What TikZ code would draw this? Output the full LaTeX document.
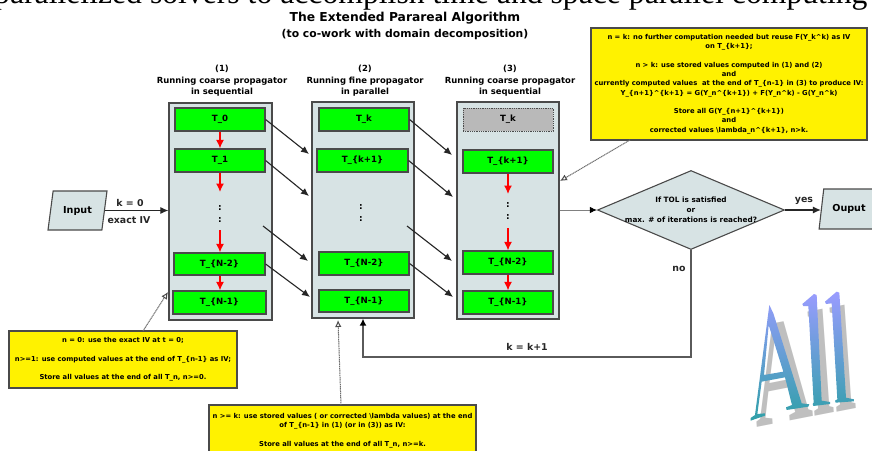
\documentclass[tikz,border=0pt]{standalone}
\usepackage{fontspec}
\setmainfont{DejaVu Sans}
\newfontfamily\timesf{Liberation Serif}
\usetikzlibrary{arrows.meta,shapes.geometric}
\definecolor{panelc}{HTML}{D7E3E4}
\definecolor{edgec}{HTML}{4A4A4A}
\definecolor{grayc}{HTML}{808080}
\definecolor{logotop}{HTML}{9A9CFF}
\definecolor{logobot}{HTML}{2FA0A8}
\tikzset{
  panel/.style={draw=edgec,line width=1.3pt,fill=panelc,inner sep=0pt},
  tbox/.style={draw=edgec,line width=1.2pt,fill=green,inner sep=0pt,font=\fontsize{8.6}{9}\selectfont\bfseries,text=black},
  ghost/.style={draw=edgec,densely dotted,line width=.8pt,fill=gray!55,inner sep=0pt,font=\fontsize{8.6}{9}\selectfont\bfseries},
  note/.style={draw=edgec,line width=1.2pt,fill=yellow,inner sep=0pt,align=center,font=\fontsize{6.8}{9.3}\selectfont\bfseries},
  head/.style={align=center,inner sep=0pt,font=\fontsize{8.45}{11.4}\selectfont\bfseries},
  lab/.style={inner sep=0pt,font=\fontsize{9.4}{10}\selectfont\bfseries,text=black!85},
  para/.style={draw=edgec,line width=1.1pt,fill=panelc,trapezium,trapezium left angle=71.5,trapezium right angle=108.5,trapezium stretches=true,inner sep=0pt,font=\fontsize{9.6}{10}\selectfont\bfseries},
  flow/.style={draw=black!85,line width=1.1pt,-{Latex[length=8pt,width=7pt]}},
  redflow/.style={draw=red,line width=1.3pt,-{Latex[length=8.5pt,width=8pt]}},
  thinflow/.style={draw=grayc,line width=1pt,-{Latex[length=7pt,width=6.5pt,black]}},
  callout/.style={draw=grayc!85!black,dash pattern=on 1.2pt off .6pt,line width=1pt,-{Latex[open,length=7pt,width=6.5pt,black!70]}},
  dots/.style={inner sep=0pt,font=\fontsize{9}{10}\selectfont\bfseries}
}
\begin{document}
\begin{tikzpicture}[x=1pt,y=-1pt]
\clip (0,0) rectangle (872,450);
\fill[white] (0,0) rectangle (872,450);
% clipped line of page text
\node[anchor=base west,inner sep=0pt,font={\timesf\fontsize{31.7}{32}\selectfont}] (pagetext) at (-6,3) {parallelized solvers to accomplish time and space parallel computing};
% title
\node[inner sep=0pt,font=\fontsize{12.3}{13}\selectfont\bfseries] (title) at (405,18) {The Extended Parareal Algorithm};
\node[inner sep=0pt,font=\fontsize{10.8}{12}\selectfont\bfseries] (subtitle) at (405,35) {(to co-work with domain decomposition)};
% headers
\node[head] (h1) at (222,81) {(1)\\Running coarse propagator\\in sequential};
\node[head] (h2) at (365,81) {(2)\\Running fine propagator\\in parallel};
\node[head] (h3) at (510,81) {(3)\\Running coarse propagator\\in sequential};
% panels
\node[panel,minimum width=103pt,minimum height=217pt] (p1) at (220.5,211.5) {};
\node[panel,minimum width=102pt,minimum height=216pt] (p2) at (363,210) {};
\node[panel,minimum width=102pt,minimum height=217pt] (p3) at (508,210.5) {};
% column 1
\node[tbox,minimum width=90pt,minimum height=23pt] (a0) at (220,119.5) {T\_0};
\node[tbox,minimum width=90pt,minimum height=23pt] (a1) at (220,160.5) {T\_1};
\node[tbox,minimum width=91pt,minimum height=22pt] (a2) at (219.5,264) {T\_\{N-2\}};
\node[tbox,minimum width=93pt,minimum height=23pt] (a3) at (219.5,302.5) {T\_\{N-1\}};
% column 2
\node[tbox,minimum width=90pt,minimum height=23pt] (b0) at (364,119.5) {T\_k};
\node[tbox,minimum width=91pt,minimum height=23pt] (b1) at (362.5,160.5) {T\_\{k+1\}};
\node[tbox,minimum width=90pt,minimum height=23pt] (b2) at (364,263.5) {T\_\{N-2\}};
\node[tbox,minimum width=90pt,minimum height=22pt] (b3) at (364,301) {T\_\{N-1\}};
% column 3
\node[ghost,minimum width=90pt,minimum height=23pt] (c0) at (508,119.5) {T\_k};
\node[tbox,minimum width=90pt,minimum height=23pt] (c1) at (508,161.5) {T\_\{k+1\}};
\node[tbox,minimum width=90pt,minimum height=23pt] (c2) at (508,262.5) {T\_\{N-2\}};
\node[tbox,minimum width=90pt,minimum height=23pt] (c3) at (508,302.5) {T\_\{N-1\}};
% vertical dots
\node[dots] (d1a) at (220,208) {:};
\node[dots] (d1b) at (220,220) {:};
\node[dots] (d2a) at (361,207) {:};
\node[dots] (d2b) at (361,219) {:};
\node[dots] (d3a) at (508,205) {:};
\node[dots] (d3b) at (508,217) {:};
% free ends
\coordinate (e1) at (309,154);
\coordinate (e2) at (309,196);
\coordinate (s3) at (263,226);
\coordinate (e3) at (308,261);
\coordinate (e4) at (310,297);
\coordinate (f1) at (452,155);
\coordinate (f2) at (453,197);
\coordinate (t3) at (407,226);
\coordinate (f3) at (452,261);
\coordinate (f4) at (453,297);
\coordinate (r1) at (220,192);
\coordinate (r2) at (220,230);
\coordinate (r3) at (508,194);
\coordinate (r4) at (508,228);
% coarse to fine
\draw[flow] (a0.east) -- (e1);
\draw[flow] (a1.east) -- (e2);
\draw[flow] (s3) -- (e3);
\draw[flow] (a2.east) -- (e4);
\draw[flow] (b0.east) -- (f1);
\draw[flow] (b1.east) -- (f2);
\draw[flow] (t3) -- (f3);
\draw[flow] (b2.east) -- (f4);
% red
\draw[redflow] (a0.south) -- (a1.north);
\draw[redflow] (a1.south) -- (r1);
\draw[redflow] (r2) -- (r2 |- a2.north);
\draw[redflow] (r2 |- a2.south) -- (r2 |- a3.north);
\draw[redflow] (c1.south) -- (r3);
\draw[redflow] (r4) -- (c2.north);
\draw[redflow] (c2.south) -- (c3.north);
% input / output
\node[para,minimum width=59pt,minimum height=39pt] (input) at (77.5,210.5) {Input};
\node[para,minimum width=60pt,minimum height=40pt] (output) at (849,209) {Ouput};
\draw[flow] (input.east) -- (p1.west |- input.east);
\node[lab] (k0) at (130,203) {k = 0};
\node[lab] (iv) at (129,220) {exact IV};
% decision
\node[diamond,draw=edgec,line width=1.1pt,fill=panelc,aspect=2.37,inner sep=0pt,minimum width=187pt,minimum height=79pt] (check) at (691,210) {};
\node[align=center,inner sep=0pt,font=\fontsize{7.3}{10}\selectfont\bfseries] (checktext) at (691,210) {If TOL is satisfied\\or\\max. \# of iterations is reached?};
\draw[thinflow] (p3.east |- check.west) -- (check.west);
\draw[flow] (check.east) -- (output.west |- check.east);
\node[lab] (yes) at (804,201) {yes};
\node[lab] (no) at (679,269) {no};
\node[lab] (kk) at (527,347) {k = k+1};
\coordinate (fb) at (363,357);
\draw[draw=grayc!70!black,line width=1.4pt,-{Latex[length=7pt,width=7pt,black]}] (check.south) |- (fb) -- (fb |- p2.south);
% notes
\node[note,minimum width=276pt,minimum height=112pt] (n3) at (729,84) {n = k: no further computation needed but reuse F(Y\_k\textasciicircum k) as IV\\on T\_\{k+1\};\\[9.3pt]n > k: use stored values computed in (1) and (2)\\and\\currently computed values\ \ at the end of T\_\{n-1\} in (3) to produce IV:\\Y\_\{n+1\}\textasciicircum\{k+1\} = G(Y\_n\textasciicircum\{k+1\}) + F(Y\_n\textasciicircum k) - G(Y\_n\textasciicircum k)\\[9.3pt]Store all G(Y\_\{n+1\}\textasciicircum\{k+1\})\\and\\corrected values \textbackslash lambda\_n\textasciicircum\{k+1\}, n>k.};
\node[note,minimum width=228pt,minimum height=57pt] (n1) at (123,359.5) {n = 0: use the exact IV at t = 0;\\[9.3pt]n>=1: use computed values at the end of T\_\{n-1\} as IV;\\[9.3pt]Store all values at the end of all T\_n, n>=0.};
\node[note,minimum width=267pt,minimum height=51pt] (n2) at (342.5,430.5) {n >= k: use stored values ( or corrected \textbackslash lambda values) at the end\\of T\_\{n-1\} in (1) (or in (3)) as IV:\\[9.3pt]Store all values at the end of all T\_n, n>=k.};
\coordinate (n1s) at (143,331);
\coordinate (n1e) at (168,292);
\coordinate (n2s) at (341,405);
\coordinate (n2e) at (338,320);
\coordinate (n3s) at (630,140);
\coordinate (n3e) at (560,181);
\draw[callout] (n1s) -- (n1e);
\draw[callout] (n2s) -- (n2e);
\draw[callout] (n3s) -- (n3e);
% logo: grey shadow as text, shaded letters on top
\node[transform shape,cm={.53,.104,-.07,1,(756,428)},anchor=base west,inner sep=0pt,text=black!25,font={\timesf\bfseries\fontsize{150}{150}\selectfont}] (logo) at (0,0) {All};
\begin{scope}[shift={(720,270)},x=.3333pt,y=-.3333pt]
\shade[even odd rule,top color=logotop,middle color=logotop!75!logobot,bottom color=logobot]
 (148,105) -- (160,130) -- (245,400) -- (268,403) -- (265,410) -- (200,420) -- (198,412) -- (216,405) -- (195,322) -- (125,335) -- (112,432) -- (135,430) -- (135,437) -- (92,452) -- (92,444) -- (105,435) -- cycle
 (146,165) -- (132,315) -- (190,305) -- cycle
 (247,102) -- (282,72) -- (290,75) -- (305,392) -- (330,396) -- (330,402) -- (280,408) -- (278,402) -- (281,398) -- (265,108) -- (250,108) -- cycle
 (315,95) -- (350,65) -- (358,68) -- (378,383) -- (402,388) -- (402,394) -- (347,398) -- (345,392) -- (352,388) -- (335,100) -- (318,102) -- cycle;
\end{scope}
\end{tikzpicture}
\end{document}
